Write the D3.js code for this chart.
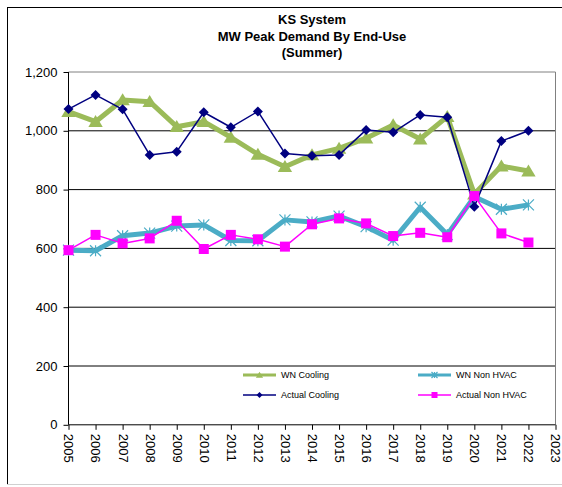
<!DOCTYPE html>
<html>
<head>
<meta charset="utf-8">
<script src="https://cdn.jsdelivr.net/npm/d3@7"></script>
<style>
  html, body { margin: 0; padding: 0; background: #fff; }
  svg { display: block; font-family: "Liberation Sans", Arial, sans-serif; }
</style>
</head>
<body>
<svg id="chart" width="562" height="487"></svg>
<script>
// Summer peak demand (MW) by end-use, KS system
const years = [2005, 2006, 2007, 2008, 2009, 2010, 2011, 2012, 2013, 2014,
               2015, 2016, 2017, 2018, 2019, 2020, 2021, 2022];
const wnCooling     = [1065, 1031, 1105, 1099, 1014, 1031, 978, 920, 878, 918,
                       940, 975, 1020, 972, 1048, 785, 880, 863];
const actualCooling = [1074, 1122, 1073, 918, 929, 1063, 1012, 1066, 923, 915,
                       918, 1003, 995, 1054, 1046, 742, 965, 1000];
const wnNonHvac     = [594, 592, 643, 652, 676, 680, 627, 626, 697, 690,
                       710, 674, 628, 740, 647, 776, 733, 748];
const actualNonHvac = [594, 646, 617, 634, 694, 598, 646, 631, 606, 682,
                       702, 685, 642, 653, 638, 778, 651, 620];
const xTickYears = d3.range(2005, 2024);
const yTicks = [0, 200, 400, 600, 800, 1000, 1200];
const titleLines = ["KS System", "MW Peak Demand By End-Use", "(Summer)"];

const series = [
  { name: "WN Cooling",      values: wnCooling,     color: "#9BBB59", width: 5,   marker: "triangle" },
  { name: "WN Non HVAC",     values: wnNonHvac,     color: "#4BACC6", width: 5,   marker: "asterisk" },
  { name: "Actual Cooling",  values: actualCooling, color: "#000080", width: 1.5, marker: "diamond" },
  { name: "Actual Non HVAC", values: actualNonHvac, color: "#FF00FF", width: 1.5, marker: "square" }
];

const svg = d3.select("#chart");
const plot = { left: 68.5, right: 555.5, top: 72, bottom: 424.8 };

const x = d3.scaleLinear().domain([2005, 2023]).range([plot.left, plot.right]);
const y = d3.scaleLinear().domain([0, 1200]).range([plot.bottom, plot.top]);

// outer chart frame
svg.append("line").attr("x1", 7.5).attr("x2", 7.5).attr("y1", 7).attr("y2", 485)
  .attr("stroke", "#000");
svg.append("line").attr("x1", 7).attr("x2", 562).attr("y1", 7.5).attr("y2", 7.5)
  .attr("stroke", "#000");
svg.append("line").attr("x1", 7).attr("x2", 562).attr("y1", 484.5).attr("y2", 484.5)
  .attr("stroke", "#d0d0d0");

// title
svg.append("text")
  .attr("x", (plot.left + plot.right) / 2)
  .attr("y", 24)
  .attr("text-anchor", "middle")
  .attr("font-size", 13)
  .attr("font-weight", "bold")
  .selectAll("tspan")
  .data(titleLines)
  .join("tspan")
  .attr("x", (plot.left + plot.right) / 2)
  .attr("dy", (d, i) => i === 0 ? 0 : 16.5)
  .text(d => d);

// horizontal gridlines
svg.append("g")
  .selectAll("line")
  .data(yTicks.filter(v => v > 0))
  .join("line")
  .attr("x1", plot.left).attr("x2", plot.right)
  .attr("y1", d => y(d)).attr("y2", d => y(d))
  .attr("stroke", d => d === 1200 ? "#808080" : "#000")
  .attr("stroke-width", 1);

// right edge of the plot area
svg.append("line")
  .attr("x1", plot.right).attr("x2", plot.right)
  .attr("y1", plot.top).attr("y2", plot.bottom)
  .attr("stroke", "#808080");

// y axis
const yAxis = d3.axisLeft(y)
  .tickValues(yTicks)
  .tickSize(5)
  .tickPadding(6)
  .tickFormat(d3.format(","));
const gy = svg.append("g").attr("transform", `translate(${plot.left},0)`).call(yAxis);
gy.selectAll("text").attr("font-size", 13).attr("fill", "#000")
  .attr("font-family", "Liberation Sans, Arial, sans-serif");
gy.selectAll("line, path").attr("stroke", "#000");
gy.select(".domain").attr("d", `M0,${plot.top}V${plot.bottom}`);

// x axis
const xAxis = d3.axisBottom(x)
  .tickValues(xTickYears)
  .tickSize(5)
  .tickFormat(d3.format("d"));
const gx = svg.append("g").attr("transform", `translate(0,${plot.bottom})`).call(xAxis);
gx.selectAll("line, path").attr("stroke", "#000");
gx.select(".domain").attr("d", `M${plot.left},0H${plot.right}`);
gx.selectAll("text")
  .attr("font-size", 13)
  .attr("fill", "#000")
  .attr("font-family", "Liberation Sans, Arial, sans-serif")
  .attr("text-anchor", "start")
  .attr("transform", "rotate(90)")
  .attr("x", 9)
  .attr("y", 0)
  .attr("dy", "0.35em");

// marker shapes
function drawMarker(g, type, color, size) {
  const s = size;
  if (type === "triangle") {
    g.append("path")
      .attr("d", `M0,${-s * 0.55}L${s * 0.6},${s * 0.45}L${-s * 0.6},${s * 0.45}Z`)
      .attr("fill", color);
  } else if (type === "diamond") {
    g.append("path")
      .attr("d", `M0,${-s / 2}L${s / 2},0L0,${s / 2}L${-s / 2},0Z`)
      .attr("fill", color);
  } else if (type === "square") {
    g.append("rect")
      .attr("x", -s / 2).attr("y", -s / 2).attr("width", s).attr("height", s)
      .attr("fill", color);
  } else if (type === "asterisk") {
    const h = s / 2;
    g.append("path")
      .attr("d", `M${-h},${-h}L${h},${h}M${-h},${h}L${h},${-h}M0,${-h}L0,${h}`)
      .attr("stroke", color)
      .attr("stroke-width", 1.2)
      .attr("fill", "none");
  }
}

const markerSize = { triangle: 12, diamond: 10, square: 10, asterisk: 11 };

const line = d3.line()
  .x((d, i) => x(years[i]))
  .y(d => y(d));

series.forEach(s => {
  const g = svg.append("g");
  g.append("path")
    .datum(s.values)
    .attr("d", line)
    .attr("fill", "none")
    .attr("stroke", s.color)
    .attr("stroke-width", s.width)
    .attr("stroke-linejoin", "round");
  g.selectAll("g.pt")
    .data(s.values)
    .join("g")
    .attr("class", "pt")
    .attr("transform", (d, i) => `translate(${x(years[i])},${y(d)})`)
    .each(function () { drawMarker(d3.select(this), s.marker, s.color, markerSize[s.marker]); });
});

// legend
const legendItems = [
  { s: series[0], lx: 243, ly: 375 },
  { s: series[1], lx: 418, ly: 375 },
  { s: series[2], lx: 243, ly: 395 },
  { s: series[3], lx: 418, ly: 395 }
];
const lg = svg.append("g");
legendItems.forEach(item => {
  const g = lg.append("g").attr("transform", `translate(${item.lx},${item.ly})`);
  g.append("line")
    .attr("x1", 0).attr("x2", 33).attr("y1", 0).attr("y2", 0)
    .attr("stroke", item.s.color)
    .attr("stroke-width", item.s.width > 2 ? 3 : 1.5);
  const m = g.append("g").attr("transform", "translate(16.5,0)");
  drawMarker(m, item.s.marker, item.s.color, 6);
  g.append("text")
    .attr("x", 38).attr("y", 0).attr("dy", "0.35em")
    .attr("font-size", 9)
    .attr("fill", "#000")
    .text(item.s.name);
});
</script>
</body>
</html>
